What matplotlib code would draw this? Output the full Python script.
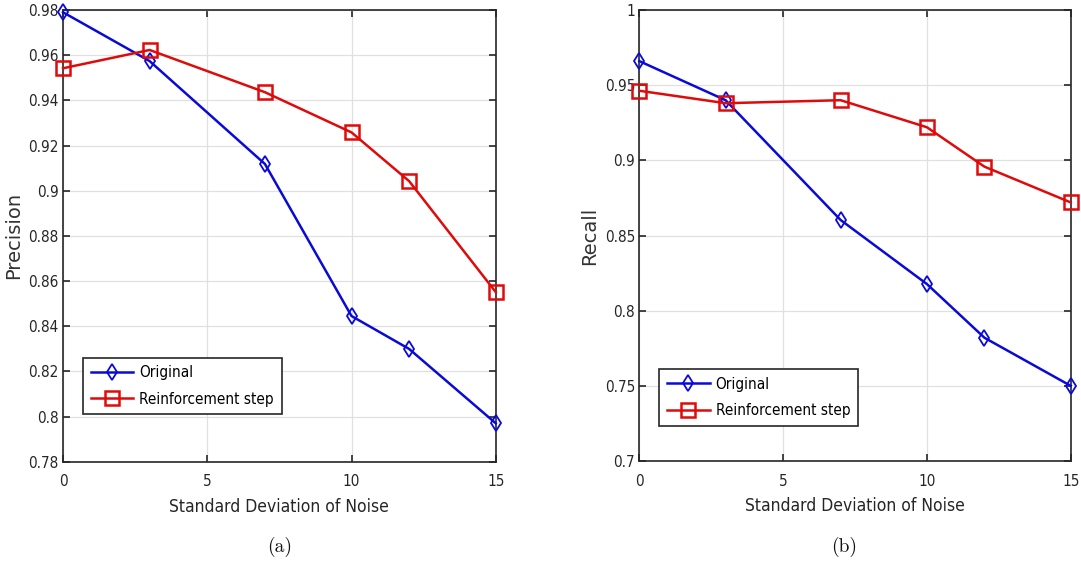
import matplotlib
matplotlib.use("Agg")
import matplotlib.pyplot as plt
from matplotlib import font_manager

# Noise levels on the x axis
noise_std = [0, 3, 7, 10, 12, 15]

# Precision for each noise level
precision_original = [0.979, 0.9574, 0.9118, 0.8445, 0.8299, 0.797]
precision_reinforced = [0.9542, 0.9623, 0.9436, 0.9258, 0.9042, 0.8551]

# Recall for each noise level
recall_original = [0.966, 0.940, 0.8603, 0.8177, 0.782, 0.750]
recall_reinforced = [0.9463, 0.938, 0.940, 0.922, 0.8958, 0.872]

series_labels = ["Original", "Reinforcement step"]
x_ticks = [0, 5, 10, 15]
precision_ticks = [0.78, 0.80, 0.82, 0.84, 0.86, 0.88, 0.90, 0.92, 0.94, 0.96, 0.98]
precision_ticklabels = ["0.78", "0.8", "0.82", "0.84", "0.86", "0.88", "0.9",
                        "0.92", "0.94", "0.96", "0.98"]
recall_ticks = [0.70, 0.75, 0.80, 0.85, 0.90, 0.95, 1.00]
recall_ticklabels = ["0.7", "0.75", "0.8", "0.85", "0.9", "0.95", "1"]

BLUE = "#0a0ad8"
RED = "#e00a0a"
INK = "#262626"

names = {f.name for f in font_manager.fontManager.ttflist}
narrow = "Liberation Sans Narrow" if "Liberation Sans Narrow" in names else "DejaVu Sans"
tick_font = dict(family=narrow, stretch="condensed")
caption_family = "cmr10" if "cmr10" in names else "DejaVu Serif"

fig = plt.figure(figsize=(10.81, 5.62), dpi=100)
ax1 = fig.add_axes([0.0583, 0.1785, 0.4003, 0.8037])
ax2 = fig.add_axes([0.5914, 0.1797, 0.3991, 0.8025])


def draw(ax, orig, reinf, yticks, yticklabels, ylim, ylabel, legend_anchor):
    ax.plot(noise_std, orig, color=BLUE, lw=1.8, marker="d", ms=8,
            mfc="none", mec=BLUE, mew=1.3, label=series_labels[0], zorder=3,
            clip_on=False)
    ax.plot(noise_std, reinf, color=RED, lw=1.8, marker="s", ms=10,
            mfc="none", mec=RED, mew=1.8, label=series_labels[1], zorder=3,
            clip_on=False)
    ax.set_xlim(0, 15)
    ax.set_ylim(*ylim)
    ax.set_xticks(x_ticks)
    ax.set_xticklabels([str(t) for t in x_ticks], fontsize=11, color=INK,
                       **tick_font)
    ax.set_yticks(yticks)
    ax.set_yticklabels(yticklabels, fontsize=11, color=INK, **tick_font)
    ax.grid(True, color="#e0e0e0", lw=0.9)
    ax.set_axisbelow(True)
    ax.tick_params(direction="in", length=5, width=1.2, color=INK,
                   top=True, right=True)
    ax.tick_params(axis="x", pad=9)
    ax.tick_params(axis="y", pad=3)
    for sp in ax.spines.values():
        sp.set_color(INK)
        sp.set_linewidth(1.2)
    ax.set_xlabel("Standard Deviation of Noise", fontsize=12.5, color=INK,
                  labelpad=6, **tick_font)
    ax.set_ylabel(ylabel, fontsize=14, color="#333333", family="DejaVu Sans",
                  labelpad=4)
    leg = ax.legend(loc="lower left", bbox_to_anchor=legend_anchor,
                    fancybox=False, framealpha=1, edgecolor=INK,
                    prop=dict(family=narrow, stretch="condensed", size=11),
                    handlelength=2.8, handletextpad=0.4, borderpad=0.5,
                    labelspacing=0.75, borderaxespad=0)
    leg.get_frame().set_linewidth(1.2)


draw(ax1, precision_original, precision_reinforced, precision_ticks,
     precision_ticklabels, (0.78, 0.98), "Precision", (0.046, 0.105))
draw(ax2, recall_original, recall_reinforced, recall_ticks,
     recall_ticklabels, (0.70, 1.00), "Recall", (0.046, 0.078))

fig.text(0.2585, 0.027, "(a)", fontsize=14, family=caption_family,
         ha="center", va="center", color="#111111")
fig.text(0.7806, 0.027, "(b)", fontsize=14, family=caption_family,
         ha="center", va="center", color="#111111")

fig.savefig("out.png", dpi=100)
